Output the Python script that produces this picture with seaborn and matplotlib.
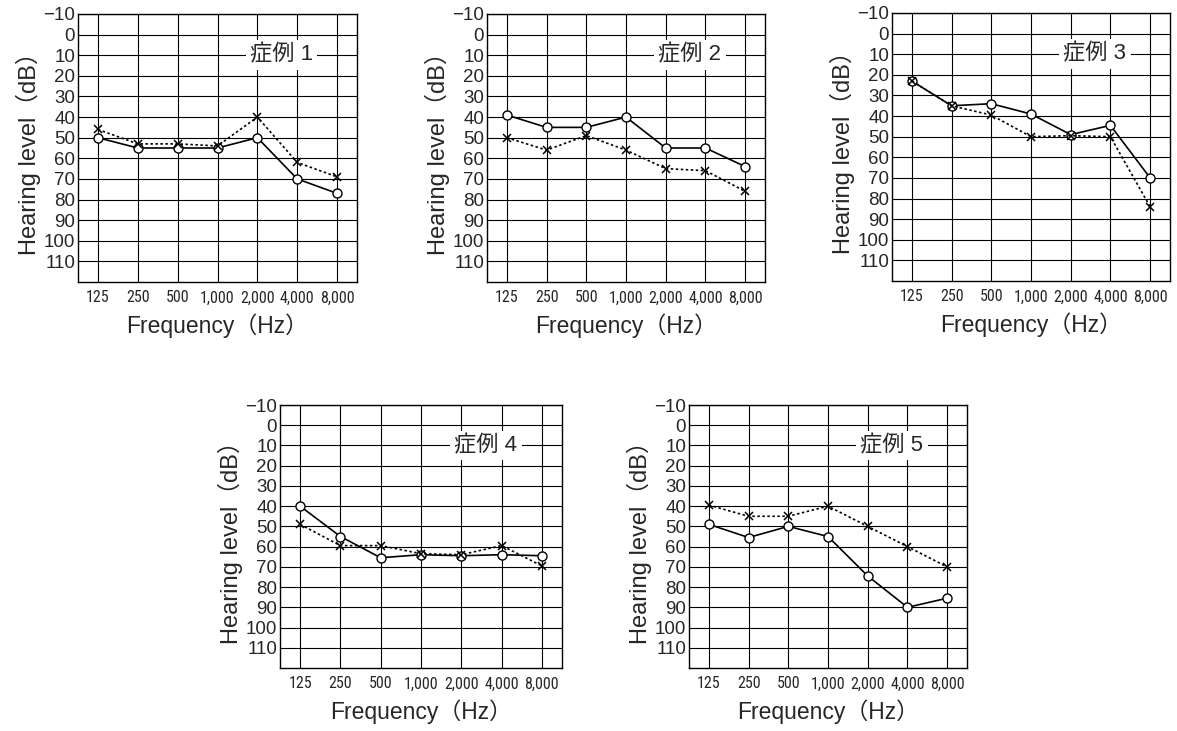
import pandas as pd
import seaborn as sns
import matplotlib.pyplot as plt
from matplotlib import font_manager as fm

freqs = ["125", "250", "500", "1,000", "2,000", "4,000", "8,000"]
case_names = ["症例 1", "症例 2", "症例 3", "症例 4", "症例 5"]

# O = solid line with open circles, X = dotted line with crosses
case1_o = [50, 55, 55, 55, 50, 70, 77]
case1_x = [46, 53, 53, 54, 40, 62, 69]
case2_o = [39, 45, 45, 40, 55, 55, 64]
case2_x = [50, 56, 49, 56, 65, 66, 76]
case3_o = [23, 35, 34, 39, 49, 44.5, 70]
case3_x = [23, 35, 39.5, 50, 49.5, 50, 84]
case4_o = [40, 55, 65.5, 64, 64.5, 64, 64.5]
case4_x = [49, 59.5, 59.5, 63.5, 64, 59.5, 69.5]
case5_o = [49, 55.5, 50, 55, 74.5, 90, 85.5]
case5_x = [39.5, 45, 45, 40, 50, 60, 70]

all_o = [case1_o, case2_o, case3_o, case4_o, case5_o]
all_x = [case1_x, case2_x, case3_x, case4_x, case5_x]
yticks = list(range(-10, 111, 10))
ytick_labels = ["\u221210"] + [str(v) for v in yticks[1:]]

sns.set_theme(style="white")
plt.rcParams["font.family"] = ["Liberation Sans", "Noto Sans CJK JP", "DejaVu Sans"]

# narrow font for the frequency labels, if one is installed
installed = {f.name for f in fm.fontManager.ttflist}
narrow = "Liberation Sans"
for cand in ["Liberation Sans Narrow", "Arial Narrow", "Roboto Condensed",
             "Open Sans Condensed", "PT Sans Narrow", "Archivo Narrow",
             "Fira Sans Condensed", "IBM Plex Sans Condensed", "Barlow Semi Condensed"]:
    if cand in installed:
        narrow = cand
        break

fig = plt.figure(figsize=(11.77, 7.31), dpi=100)
rects = [
    (78 / 1177, 1 - 282 / 731, 279 / 1177, 268 / 731),
    (487 / 1177, 1 - 282 / 731, 278 / 1177, 268 / 731),
    (892 / 1177, 1 - 281 / 731, 278 / 1177, 268 / 731),
    (280 / 1177, 1 - 668 / 731, 282 / 1177, 263 / 731),
    (689 / 1177, 1 - 668 / 731, 278 / 1177, 263 / 731),
]

for i, rect in enumerate(rects):
    ax = fig.add_axes(rect)
    df_o = pd.DataFrame({"freq": freqs, "level": all_o[i]})
    df_x = pd.DataFrame({"freq": freqs, "level": all_x[i]})
    sns.lineplot(data=df_o, x="freq", y="level", ax=ax, sort=False,
                 color="black", lw=1.2, marker="o", markersize=6.5,
                 markerfacecolor="white", markeredgecolor="black",
                 markeredgewidth=1.0, zorder=3)
    sns.lineplot(data=df_x, x="freq", y="level", ax=ax, sort=False,
                 color="black", lw=1.2, linestyle=(0, (1.5, 1.5)), marker="x",
                 markersize=6, markeredgecolor="black", markeredgewidth=1.1,
                 zorder=4)

    ax.set_xlim(-0.5, 6.5)
    ax.set_ylim(120, -10)
    ax.set_yticks(yticks)
    ax.set_yticklabels(ytick_labels, fontsize=13.5)
    ax.set_xticks(range(len(freqs)))
    ax.set_xticklabels(freqs, fontsize=11.5 if narrow != "Liberation Sans" else 10,
                       family=[narrow, "Liberation Sans"])
    ax.tick_params(axis="y", length=0, pad=2)
    ax.tick_params(axis="x", length=0, pad=6)
    ax.grid(True, color="black", lw=0.8)
    for s in ax.spines.values():
        s.set_color("black")
        s.set_linewidth(1.0)
    ax.set_ylabel("Hearing level（dB）", fontsize=17, labelpad=2)
    ax.set_xlabel("Frequency（Hz）", fontsize=16.5, labelpad=6)
    ax.text(0.73, 10, case_names[i], transform=ax.get_yaxis_transform(),
            ha="center", va="center", fontsize=16, zorder=5,
            bbox=dict(facecolor="white", edgecolor="none", pad=3))

fig.savefig("out.png", dpi=100, facecolor="white")
